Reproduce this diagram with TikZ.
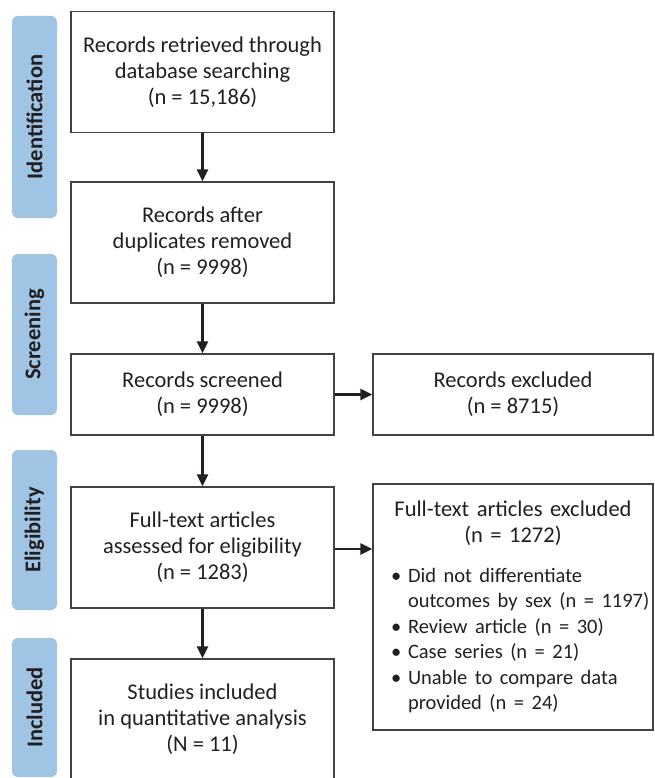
\documentclass[tikz,border=0pt]{standalone}
\usepackage{fontspec}
\setmainfont{Carlito}
\usetikzlibrary{arrows.meta}
\definecolor{phase}{RGB}{160,196,227}
\definecolor{ink}{RGB}{35,31,32}

\begin{document}
\begin{tikzpicture}[x=1pt,y=-1pt,
                      box node/.style={rectangle,draw=ink!85,line width=1.2pt,
                      minimum width=263pt,minimum height=121pt,align=center,
                      inner sep=0pt,text=ink,font=\fontsize{22.5}{26}\selectfont},
                      phase node/.style={rectangle,rounded corners=6pt,fill=phase,
                      rotate=90,minimum height=45pt,inner sep=0pt,text=ink,
                      font=\bfseries\fontsize{22.5}{26}\selectfont},
                      flow/.style={-{Triangle[length=12pt,width=11pt]},line width=2.4pt,draw=ink}
                     ]
   \useasboundingbox (0,0) rectangle (654,778);
   \clip (0,0) rectangle (654,778);

   % phases on the left
   \node[phase node,minimum width=202pt] (ident) at (34.5,117.0) {Identification};
   \node[phase node,minimum width=161pt] (screen) at (34.5,334.5) {Screening};
   \node[phase node,minimum width=160pt] (elig) at (34.5,530.0) {Eligibility};
   \node[phase node,minimum width=139pt] (incl) at (34.5,707.5) {Included};

   % main column
   \node[box node] (found) at (202.5,72.0) {Records retrieved through\\database searching\\(n = 15,186)};
   \node[box node] (dedup) at (202.5,242.5) {Records after\\duplicates removed\\(n = 9998)};
   \node[box node,minimum height=81pt] (screened) at (202.5,394.5) {Records screened\\(n = 9998)};
   \node[box node] (assessed) at (202.5,547.5) {Full-text articles\\assessed for eligibility\\(n = 1283)};
   \node[box node] (studies) at (202.5,719.5) {Studies included\\in quantitative analysis\\(N = 11)};

   % exclusions
   \node[box node,minimum width=280pt,minimum height=246pt,text width=276pt,
         inner xsep=2pt,align=left] (ftex) at (513.0,607.0)
     {\parindent=0pt
      {\centering Full-text articles excluded\\(n = 1272)\par}
      \vspace{14pt}
      {\fontsize{20.5}{25.5}\selectfont
      \hspace*{16pt}\makebox[17pt][l]{\textbullet}Did not differentiate\\
      \hspace*{33pt}outcomes by sex (n = 1197)\\
      \hspace*{16pt}\makebox[17pt][l]{\textbullet}Review article (n = 30)\\
      \hspace*{16pt}\makebox[17pt][l]{\textbullet}Case series (n = 21)\\
      \hspace*{16pt}\makebox[17pt][l]{\textbullet}Unable to compare data\\
      \hspace*{33pt}provided (n = 24)\par}};
   \node[box node,minimum width=280pt,minimum height=81pt] (recex) at (513.0,394.5) {Records excluded\\(n = 8715)};

   \path%
     (found) edge[flow] (dedup)
     (dedup) edge[flow] (screened)
     (screened) edge[flow] (recex)
     (screened) edge[flow] (assessed)
     (assessed) edge[flow] (studies);
   \draw[flow] ([yshift=-1.5pt]assessed.east) -- ([yshift=-1.5pt]assessed.east -| ftex.west);
\end{tikzpicture}
\end{document}
